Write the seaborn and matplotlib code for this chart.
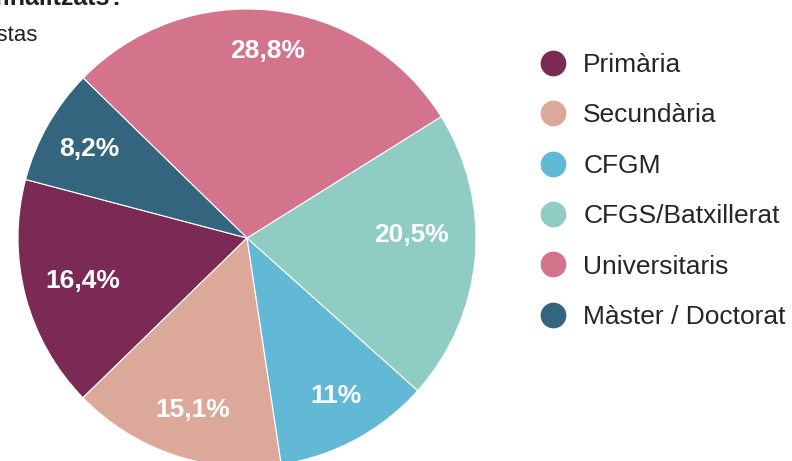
import matplotlib
matplotlib.use("Agg")
import matplotlib.pyplot as plt
import seaborn as sns
import numpy as np
from matplotlib.lines import Line2D

sns.set_theme(style="white")
plt.rcParams['font.family'] = ['Liberation Sans', 'DejaVu Sans']

categories = ["Primària", "Secundària", "CFGM", "CFGS/Batxillerat", "Universitaris", "Màster / Doctorat"]
values = [16.4, 15.1, 11.0, 20.5, 28.8, 8.2]
labels = ["16,4%", "15,1%", "11%", "20,5%", "28,8%", "8,2%"]
colors = ["#7B2A56", "#DBA89A", "#62B9D6", "#8FCCC4", "#D4738C", "#33667E"]
label_dist = [0.74, 0.79, 0.79, 0.72, 0.82, 0.79]
label_turn = [0, 1, 1, 6, 0, 0]

W, H = 792, 461
fig = plt.figure(figsize=(W / 100, H / 100), dpi=100)
cx, cy, r = 247, 238, 229
ax = fig.add_axes([(cx - r) / W, (H - cy - r) / H, 2 * r / W, 2 * r / H])
ax.axis("off")

wedges, _ = ax.pie(values, colors=colors, startangle=165.2, counterclock=True,
                   radius=1, wedgeprops=dict(linewidth=0.8, edgecolor="white"))
ax.set_xlim(-1, 1)
ax.set_ylim(-1, 1)
for w, lab, d, t in zip(wedges, labels, label_dist, label_turn):
    ang = np.deg2rad((w.theta1 + w.theta2) / 2 + t)
    ax.text(d * np.cos(ang), d * np.sin(ang), lab, ha="center", va="center",
            color="white", fontsize=19, fontweight="bold")

handles = [Line2D([0], [0], marker="o", linestyle="", markersize=17.5,
                  markerfacecolor=c, markeredgecolor=c) for c in colors]
fig.legend(handles, categories, loc="upper left", bbox_to_anchor=(537 / W, 1 - 53 / H),
           frameon=False, fontsize=19, labelspacing=1.0, handletextpad=0.55,
           handlelength=1.2, borderaxespad=0, borderpad=0)

fig.text(125 / W, 1 - 5 / H, "Quins estudis tens finalitzats?", ha="right", va="baseline",
         fontsize=18, fontweight="bold", color="#202124")
fig.text(37 / W, 1 - 41 / H, "110 respostas", ha="right", va="baseline",
         fontsize=16, color="#202124")

fig.savefig("out.png", dpi=100)
